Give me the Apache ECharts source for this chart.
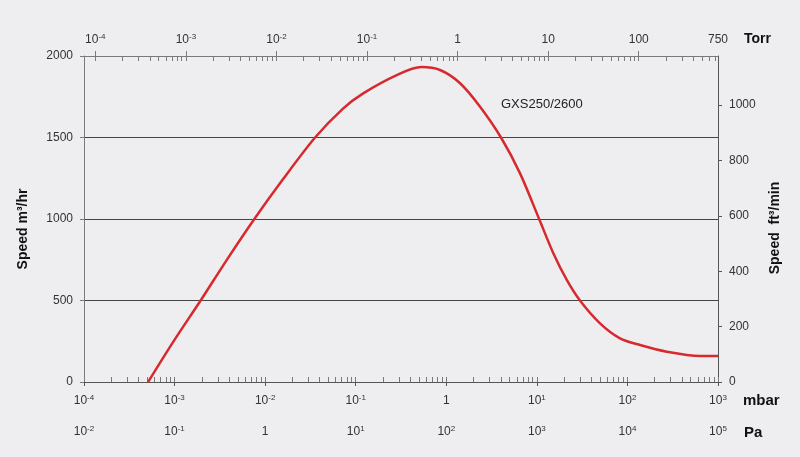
<!DOCTYPE html>
<html>
<head>
<meta charset="utf-8">
<title>GXS250/2600</title>
<script src="https://cdn.jsdelivr.net/npm/echarts@6/dist/echarts.min.js"></script>
<style>
  html, body { margin: 0; padding: 0; background: #eeeef1; }
  #chart { width: 800px; height: 457px; }
</style>
</head>
<body>
<div id="chart"></div>
<script>
// pressure (mbar) vs pumping speed (m3/hr)
var pressureMbar = [5.1e-4, 9.7e-4, 1.94e-3, 3.76e-3, 7.6e-3, 0.0158, 0.0356, 0.0729, 0.121, 0.284, 0.53, 0.853, 1.42, 2.36, 4.02, 6.52, 10.6, 15.2, 21.4, 29.9, 49.8, 82.8, 138, 272, 632, 1000];
var speedM3h = [0, 248, 500, 748, 1000, 1245, 1500, 1679, 1771, 1883, 1932, 1914, 1833, 1689, 1500, 1280, 1000, 790, 626, 500, 360, 268, 227, 186, 160, 160];

// axis decades / tick labels
var mbarDecades = [1e-4, 1e-3, 1e-2, 1e-1, 1, 10, 100, 1000];
var paDecades = [1e-2, 1e-1, 1, 10, 100, 1000, 1e4, 1e5];
var torrLabels = [1e-4, 1e-3, 1e-2, 1e-1, 1, 10, 100, 750];
var speedTicks = [0, 500, 1000, 1500, 2000];
var cfmTicks = [0, 200, 400, 600, 800, 1000];

var MBAR_PER_TORR = 1.33322;
var CFM_PER_M3H = 0.5886;

// minor log ticks 2..9 inside each decade
function minorTicks(decades, max) {
    var out = [];
    decades.forEach(function (d) {
        for (var m = 1; m <= 9; m++) {
            var v = +(m * d).toPrecision(6);
            if (v <= max) out.push(v);
        }
    });
    return out;
}

function powLabel(v) {
    var e = Math.round(Math.log10(v));
    if (e === 0) return '{b|1}';
    return '{b|10}{s|' + e + '}';
}

var labelRich = {
    b: { fontSize: 12, color: '#333', lineHeight: 14, verticalAlign: 'middle', fontFamily: 'Liberation Sans' },
    s: { fontSize: 8, color: '#333', lineHeight: 8, verticalAlign: 'top', fontFamily: 'Liberation Sans' }
};

var axisGray = '#7a7a7a';
var torrMin = 1e-4 / MBAR_PER_TORR;
var torrMax = 1000 / MBAR_PER_TORR;

var myChart = echarts.init(document.getElementById('chart'));

var option = {
    backgroundColor: '#eeeef1',
    animation: false,
    textStyle: { fontFamily: 'Liberation Sans' },
    grid: { left: 84, right: 82, top: 56, bottom: 75, containLabel: false, outerBoundsMode: 'none' },
    xAxis: [
        {   // mbar
            type: 'log', position: 'bottom', min: 1e-4, max: 1000,
            axisLine: { lineStyle: { color: axisGray } },
            axisTick: { inside: true, length: 5, customValues: minorTicks(mbarDecades.slice(0, 7), 1000).concat([1000]), lineStyle: { color: axisGray } },
            axisLabel: { customValues: mbarDecades, formatter: powLabel, rich: labelRich, margin: 12 },
            splitLine: { show: false },
            minorTick: { show: false }
        },
        {   // Pa
            type: 'log', position: 'bottom', offset: 32, min: 1e-2, max: 1e5,
            axisLine: { lineStyle: { color: '#555' } },
            axisTick: { inside: false, length: 4, customValues: paDecades, lineStyle: { color: '#555' } },
            axisLabel: { customValues: paDecades, formatter: powLabel, rich: labelRich, margin: 11 },
            splitLine: { show: false }
        },
        {   // Torr
            type: 'log', position: 'top', min: torrMin, max: torrMax,
            axisLine: { lineStyle: { color: axisGray } },
            axisTick: { inside: true, length: 5, customValues: minorTicks([1e-4, 1e-3, 1e-2, 1e-1, 1, 10, 100], torrMax), lineStyle: { color: axisGray } },
            axisLabel: {
                customValues: torrLabels, rich: labelRich, margin: 9,
                formatter: function (v) { return v >= 1 ? '{b|' + Math.round(v) + '}' : powLabel(v); }
            },
            splitLine: { show: false }
        },
        {   // Torr decade marks poking above the line
            type: 'log', position: 'top', min: torrMin, max: torrMax,
            axisLine: { show: false },
            axisTick: { inside: false, length: 5, customValues: torrLabels.slice(0, 7), lineStyle: { color: axisGray } },
            axisLabel: { show: false },
            splitLine: { show: false }
        }
    ],
    yAxis: [
        {
            type: 'value', position: 'left', min: 0, max: 2000, interval: 500,
            axisLine: { show: true, lineStyle: { color: axisGray } },
            axisTick: { show: true, length: 4, lineStyle: { color: axisGray } },
            axisLabel: { color: '#333', fontSize: 12, margin: 11, customValues: speedTicks, formatter: function (v) { return String(v); } },
            splitLine: { show: true, lineStyle: { color: [axisGray, '#444', '#444', '#444', axisGray], width: 1 } }
        },
        {
            type: 'value', position: 'right', min: 0, max: 2000 * CFM_PER_M3H,
            axisLine: { show: true, lineStyle: { color: '#555' } },
            axisTick: { show: true, length: 4, customValues: cfmTicks, lineStyle: { color: '#555' } },
            axisLabel: { color: '#333', fontSize: 12, margin: 11, customValues: cfmTicks, formatter: function (v) { return String(v); } },
            splitLine: { show: false }
        }
    ],
    graphic: [
        { type: 'text', left: 744, top: 32, style: { text: 'Torr', font: 'bold 14px "Liberation Sans"', fill: '#111' } },
        { type: 'text', left: 743, top: 393, style: { text: 'mbar', font: 'bold 15px "Liberation Sans"', fill: '#111' } },
        { type: 'text', left: 744, top: 425, style: { text: 'Pa', font: 'bold 15px "Liberation Sans"', fill: '#111' } },
        { type: 'text', left: 501, top: 98, style: { text: 'GXS250/2600', font: '13px "Liberation Sans"', fill: '#222' } },
        { type: 'text', x: 23, y: 229, rotation: Math.PI / 2,
          style: { text: 'Speed m³/hr', font: 'bold 14px "Liberation Sans"', fill: '#111', align: 'center', verticalAlign: 'middle' } },
        { type: 'text', x: 775, y: 228, rotation: Math.PI / 2,
          style: { text: 'Speed  ft³/min', font: 'bold 14px "Liberation Sans"', fill: '#111', align: 'center', verticalAlign: 'middle' } }
    ],
    series: [{
        name: 'GXS250/2600',
        type: 'line',
        xAxisIndex: 0,
        yAxisIndex: 0,
        smooth: 0.3,
        symbol: 'none',
        lineStyle: { color: '#d62a2e', width: 2.5 },
        data: pressureMbar.map(function (p, i) { return [p, speedM3h[i]]; })
    }]
};

myChart.setOption(option);
</script>
</body>
</html>
